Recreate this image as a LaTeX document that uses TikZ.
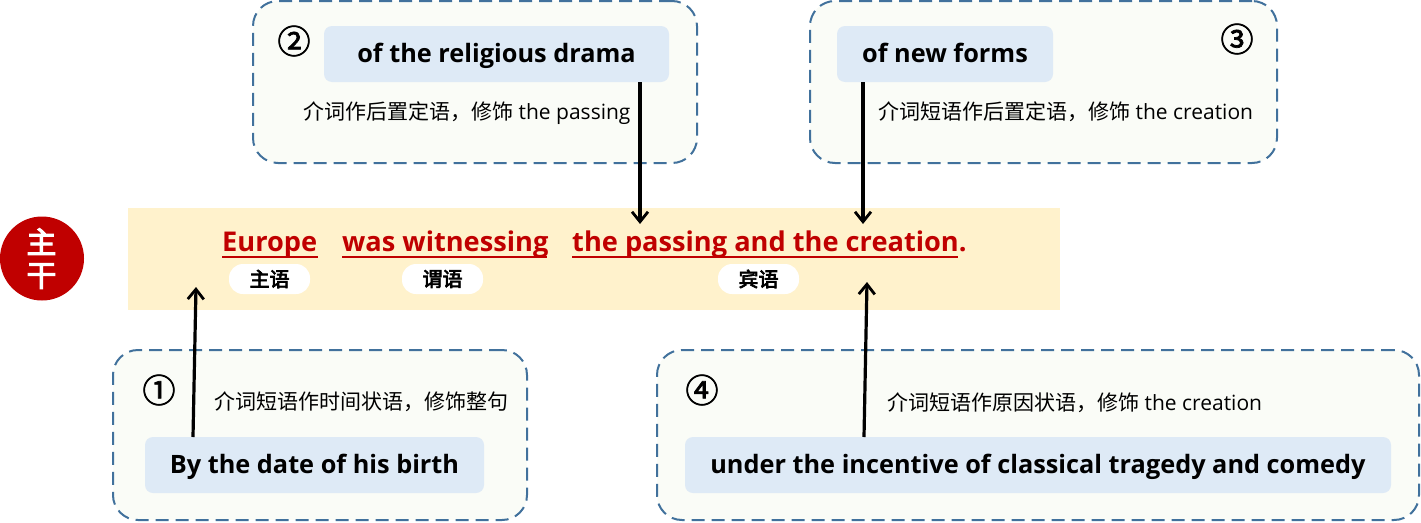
\documentclass[tikz,border=0pt]{standalone}
\usepackage{fontspec}
\setmainfont{Open Sans}
\newfontfamily\cjk{Noto Sans CJK SC}
\newfontfamily\numfont[FakeBold=2.2]{Noto Sans CJK SC}
\newfontfamily\heavyfont[FakeBold=3.5]{Noto Sans CJK SC}
\usetikzlibrary{calc,arrows.meta}
\definecolor{dashblue}{HTML}{41719C}
\definecolor{panel}{HTML}{FAFCF7}
\definecolor{inner}{HTML}{DEEAF6}
\definecolor{band}{HTML}{FFF2CC}
\definecolor{mainred}{HTML}{C00000}
\tikzset{
  panelbox/.style={draw=dashblue,fill=panel,line width=2pt,dash pattern=on 13pt off 7pt,rounded corners=25pt,anchor=north west,inner sep=0pt,outer sep=0pt},
  phrase/.style={fill=inner,rounded corners=8pt,anchor=north west,inner sep=0pt,outer sep=0pt,text=black,font=\fontsize{25.3}{30}\selectfont\bfseries,text height=20pt,text depth=4pt},
  note/.style={anchor=base west,inner sep=0pt,font=\fontsize{21}{25}\selectfont},
  num/.style={anchor=center,inner sep=0pt,font=\numfont\fontsize{33}{40}\selectfont},
  red/.style={anchor=base west,inner sep=0pt,text=mainred,font=\fontsize{27.2}{32}\selectfont\bfseries},
  pill/.style={fill=white,rounded corners=14pt,minimum width=81pt,minimum height=30pt,inner sep=0pt,outer sep=0pt,anchor=center,font=\heavyfont\fontsize{20}{24}\selectfont},
  uline/.style={draw=mainred,line width=1.3pt},
  conn/.style={draw=black,line width=3.2pt,-{Straight Barb[length=10pt,width=16pt,line width=2.8pt]}}
}
\begin{document}
\begin{tikzpicture}[x=1pt,y=-1pt]
\useasboundingbox (0,0) rectangle (1421,522);
\node[fill=band,anchor=north west,minimum width=932pt,minimum height=101.5pt,inner sep=0pt,outer sep=0pt] (bandbox) at (128,208) {};
\node[circle,fill=mainred,minimum size=84pt,inner sep=0pt,outer sep=0pt] (seal) at (42,258.5) {};
\node[text=white,inner sep=0pt,font=\heavyfont\fontsize{30}{33}\selectfont,align=center] (sealtext) at (41.5,258.5) {主\\干};
\node[panelbox,minimum width=444pt,minimum height=162pt] (p2) at (253,1) {};
\node[panelbox,minimum width=467pt,minimum height=162pt] (p3) at (810,1) {};
\node[panelbox,minimum width=414pt,minimum height=170pt] (p1) at (113,350) {};
\node[panelbox,minimum width=762pt,minimum height=170pt] (p4) at (657,350) {};
\node[phrase,minimum width=345pt,minimum height=56pt] (b2) at (324,26) {of the religious drama};
\node[phrase,minimum width=216pt,minimum height=56pt] (b3) at (837,26) {of new forms};
\node[phrase,minimum width=339pt,minimum height=56pt] (b1) at (145,437) {By the date of his birth};
\node[phrase,minimum width=706pt,minimum height=56pt] (b4) at (685,437) {under the incentive of classical tragedy and comedy};
\node[num] (n1) at (159,390) {①};
\node[num] (n2) at (294,41) {②};
\node[num] (n3) at (1237,39) {③};
\node[num] (n4) at (702,390) {④};
\node[note] (t2) at (303,119) {{\cjk 介词作后置定语，修饰} the passing};
\node[note] (t3) at (878,119) {{\cjk 介词短语作后置定语，修饰} the creation};
\node[note] (t1) at (214,409) {{\cjk 介词短语作时间状语，修饰整句}};
\node[note] (t4) at (887,410) {{\cjk 介词短语作原因状语，修饰} the creation};
\node[red] (s) at (222,251) {Europe};
\node[red] (v) at (342,251) {was witnessing};
\node[red] (o) at (572,251) {the passing and the creation.};
\coordinate (su) at (222,257);\coordinate (sv) at (318,257);
\coordinate (vu) at (342,257);\coordinate (vv) at (547,257);
\coordinate (ou) at (572,257);\coordinate (ov) at (958,257);
\draw[uline] (su) -- (sv);
\draw[uline] (vu) -- (vv);
\draw[uline] (ou) -- (ov);
\node[pill] (ps) at (269.5,279) {主语};
\node[pill] (pv) at (442.5,279) {谓语};
\node[pill] (po) at (758.5,279) {宾语};
\coordinate (a2s) at ($(b2.south west)+(316,0)$);
\coordinate (a2e) at (640,224);
\coordinate (a3s) at ($(b3.south west)+(26,0)$);
\coordinate (a3e) at (863,224);
\coordinate (a1s) at ($(b1.north west)+(48,0)$);
\coordinate (a1e) at (196,287);
\coordinate (a4s) at ($(b4.north west)+(179,0)$);
\coordinate (a4e) at (867,282);
\draw[conn] (a2s) -- (a2e);
\draw[conn] (a3s) -- (a3e);
\draw[conn] (a1s) -- (a1e);
\draw[conn] (a4s) -- (a4e);
\end{tikzpicture}
\end{document}
